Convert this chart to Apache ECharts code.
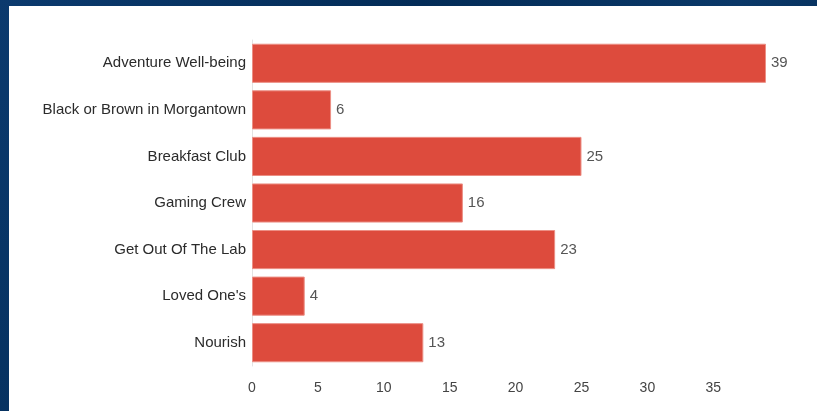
<!DOCTYPE html>
<html>
<head>
<meta charset="utf-8">
<script src="https://cdn.jsdelivr.net/npm/echarts@6/dist/echarts.min.js"></script>
<style>
  html, body { margin: 0; padding: 0; width: 817px; height: 411px; overflow: hidden;
    background: linear-gradient(120deg, #0b3a6e 0%, #032c57 40%, #0a3868 70%, #02264c 100%); }
  #main { position: absolute; left: 9px; top: 6px; width: 808px; height: 405px; background: #fff; }
</style>
</head>
<body>
<div id="main"></div>
<script>
var categories = ['Adventure Well-being', 'Black or Brown in Morgantown', 'Breakfast Club',
  'Gaming Crew', 'Get Out Of The Lab', "Loved One's", 'Nourish'];
var counts = [39, 6, 25, 16, 23, 4, 13];

var chartDom = document.getElementById('main');
var myChart = echarts.init(chartDom);
var option;

option = {
    animation: false,
    textStyle: { fontFamily: 'Liberation Sans, Arial, sans-serif' },
    grid: { left: 243, right: 51, top: 34, bottom: 45 },
    xAxis: {
        type: 'value',
        min: 0,
        max: 39,
        interval: 5,
        axisLine: { show: false },
        axisTick: { show: false },
        splitLine: { show: false },
        axisLabel: { color: '#444', fontSize: 14, margin: 15, showMaxLabel: false }
    },
    yAxis: {
        type: 'category',
        inverse: true,
        data: categories,
        axisLine: { lineStyle: { color: '#e3e3e3' } },
        axisTick: { show: false },
        axisLabel: { color: '#2b2b2b', fontSize: 15, margin: 6 }
    },
    series: [{
        type: 'bar',
        data: counts,
        barCategoryGap: '16%',
        itemStyle: { color: '#dd4b3d', borderColor: '#ec8f85', borderWidth: 1 },
        label: { show: true, position: 'right', distance: 5, color: '#555', fontSize: 15 }
    }]
};

option && myChart.setOption(option);
</script>
</body>
</html>
